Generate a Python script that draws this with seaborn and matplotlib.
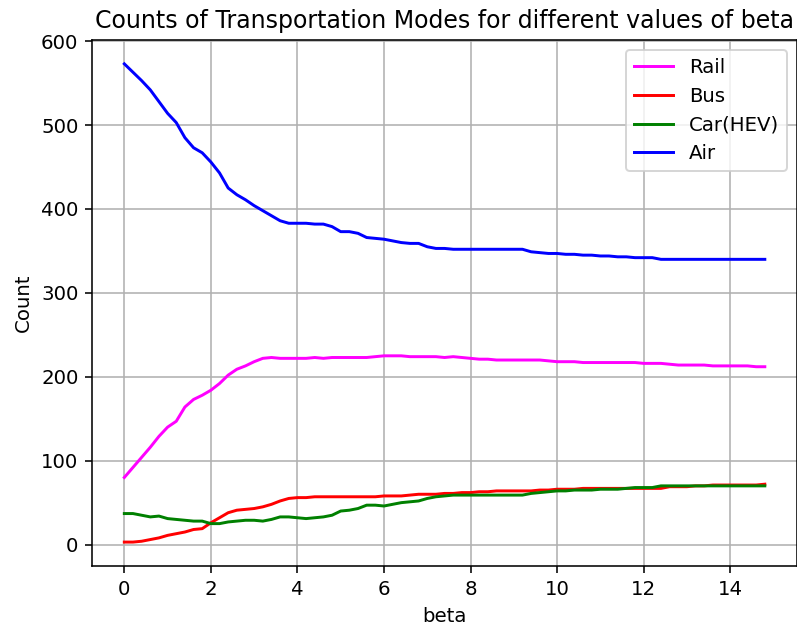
import numpy as np
import pandas as pd
import matplotlib
matplotlib.use("Agg")
import matplotlib.pyplot as plt
import seaborn as sns

# beta sweep, 0.0 .. 14.8 in steps of 0.2
beta = np.round(np.arange(0, 15.0, 0.2), 1)

rail = [80, 92, 104, 116, 129, 140, 147, 164, 173, 178,
        184, 192, 202, 209, 213, 218, 222, 223, 222, 222,
        222, 222, 223, 222, 223, 223, 223, 223, 223, 224,
        225, 225, 225, 224, 224, 224, 224, 223, 224, 223,
        222, 221, 221, 220, 220, 220, 220, 220, 220, 219,
        218, 218, 218, 217, 217, 217, 217, 217, 217, 217,
        216, 216, 216, 215, 214, 214, 214, 214, 213, 213,
        213, 213, 213, 212, 212]

bus = [3, 3, 4, 6, 8, 11, 13, 15, 18, 19,
       26, 32, 38, 41, 42, 43, 45, 48, 52, 55,
       56, 56, 57, 57, 57, 57, 57, 57, 57, 57,
       58, 58, 58, 59, 60, 60, 60, 61, 61, 62,
       62, 63, 63, 64, 64, 64, 64, 64, 65, 65,
       66, 66, 66, 67, 67, 67, 67, 67, 67, 67,
       67, 67, 67, 69, 69, 69, 70, 70, 71, 71,
       71, 71, 71, 71, 72]

car_hev = [37, 37, 35, 33, 34, 31, 30, 29, 28, 28,
           25, 25, 27, 28, 29, 29, 28, 30, 33, 33,
           32, 31, 32, 33, 35, 40, 41, 43, 47, 47,
           46, 48, 50, 51, 52, 55, 57, 58, 59, 59,
           59, 59, 59, 59, 59, 59, 59, 61, 62, 63,
           64, 64, 65, 65, 65, 66, 66, 66, 67, 68,
           68, 68, 70, 70, 70, 70, 70, 70, 70, 70,
           70, 70, 70, 70, 70]

air = [573, 563, 553, 542, 528, 514, 503, 485, 473, 467,
       456, 443, 425, 417, 411, 404, 398, 392, 386, 383,
       383, 383, 382, 382, 379, 373, 373, 371, 366, 365,
       364, 362, 360, 359, 359, 355, 353, 353, 352, 352,
       352, 352, 352, 352, 352, 352, 352, 349, 348, 347,
       347, 346, 346, 345, 345, 344, 344, 343, 343, 342,
       342, 342, 340, 340, 340, 340, 340, 340, 340, 340,
       340, 340, 340, 340, 340]

modes = ["Rail", "Bus", "Car(HEV)", "Air"]
mode_colors = {"Rail": "magenta", "Bus": "red", "Car(HEV)": "green", "Air": "blue"}

df = pd.DataFrame({"beta": beta, "Rail": rail, "Bus": bus,
                   "Car(HEV)": car_hev, "Air": air})
long_df = df.melt(id_vars="beta", value_vars=modes, var_name="Mode", value_name="Count")

dpi = 142
fig = plt.figure(figsize=(797 / dpi, 627 / dpi), dpi=dpi)
ax = fig.add_axes([0.1158, 0.0973, 0.884, 0.839])

sns.lineplot(data=long_df, x="beta", y="Count", hue="Mode", hue_order=modes,
             palette=mode_colors, linewidth=1.5, ax=ax)

ax.set_title("Counts of Transportation Modes for different values of beta")
ax.set_xlabel("beta")
ax.set_ylabel("Count")
ax.set_xticks([0, 2, 4, 6, 8, 10, 12, 14])
ax.set_yticks([0, 100, 200, 300, 400, 500, 600])
ax.grid(True)
ax.legend(loc="upper right", title=None)

fig.savefig("out.png", dpi=dpi)
